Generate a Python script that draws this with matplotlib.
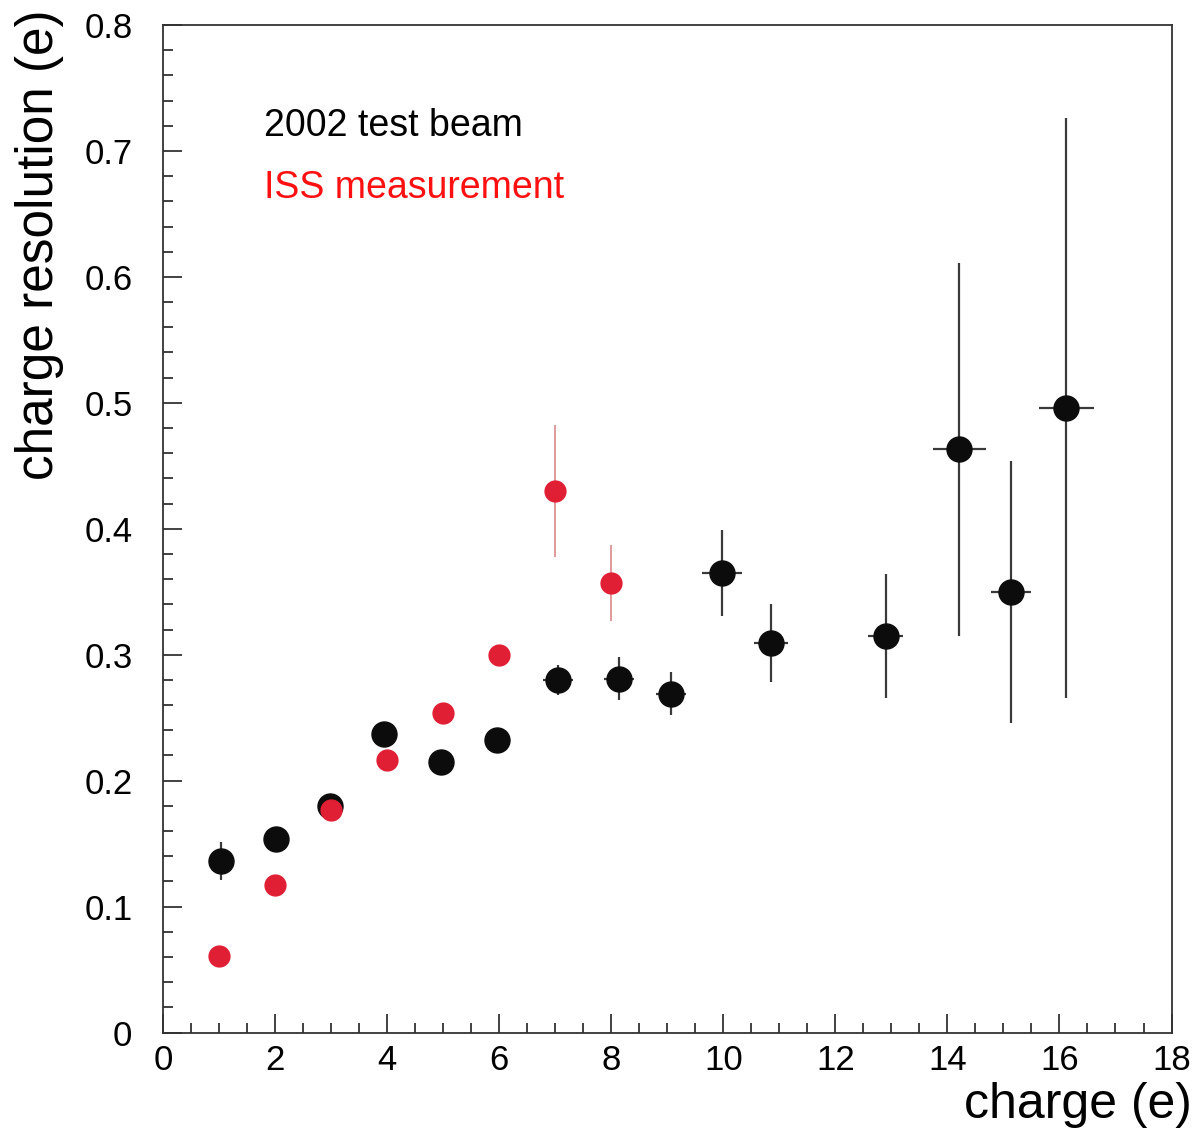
import matplotlib.pyplot as plt
from matplotlib.ticker import MultipleLocator, FuncFormatter

plt.rcParams['font.family'] = ['Liberation Sans', 'DejaVu Sans']

# 2002 test beam
beam_charge = [1.03, 2.02, 2.98, 3.94, 4.96, 5.96, 7.05, 8.14, 9.07, 9.98, 10.85, 12.9, 14.21, 15.13, 16.12]
beam_res = [0.136, 0.154, 0.180, 0.237, 0.215, 0.232, 0.280, 0.281, 0.269, 0.365, 0.309, 0.315, 0.463, 0.350, 0.496]
beam_res_err = [0.015, 0.008, 0.008, 0.008, 0.008, 0.008, 0.012, 0.017, 0.017, 0.034, 0.031, 0.049, 0.148, 0.104, 0.23]
beam_charge_err = [0.2, 0.2, 0.2, 0.2, 0.2, 0.2, 0.27, 0.27, 0.27, 0.36, 0.31, 0.31, 0.47, 0.36, 0.49]

# ISS measurement
iss_charge = [1, 2, 3, 4, 5, 6, 7, 8]
iss_res = [0.061, 0.117, 0.177, 0.216, 0.254, 0.300, 0.430, 0.357]
iss_res_err = [0, 0, 0, 0, 0, 0, 0.0525, 0.030]

fig = plt.figure(figsize=(11.98, 11.33), dpi=100)
ax = fig.add_axes([0.1361, 0.0887, 0.8418, 0.8892])

ax.errorbar(beam_charge, beam_res, yerr=beam_res_err, xerr=beam_charge_err,
            fmt='o', color='#0c0c0c', ecolor='#3a3a3a', elinewidth=1.6,
            markersize=18, capsize=0, zorder=3)
ax.errorbar(iss_charge, iss_res, yerr=iss_res_err,
            fmt='o', color='#e01f35', ecolor='#d98a8a', elinewidth=1.2,
            markersize=15, capsize=0, zorder=4)

ax.set_xlim(0, 18)
ax.set_ylim(0, 0.8)
ax.xaxis.set_major_locator(MultipleLocator(2))
ax.xaxis.set_minor_locator(MultipleLocator(0.5))
ax.yaxis.set_major_locator(MultipleLocator(0.1))
ax.yaxis.set_minor_locator(MultipleLocator(0.02))
ax.yaxis.set_major_formatter(FuncFormatter(lambda v, pos: '0' if abs(v) < 1e-9 else '%.1f' % v))

for s in ax.spines.values():
    s.set_color('#333333')
    s.set_linewidth(1.3)
ax.tick_params(which='both', direction='in', color='#333333', width=1.3,
               labelsize=25, top=False, right=False)
ax.tick_params(which='major', length=14)
ax.tick_params(which='minor', length=7)
ax.tick_params(axis='y', which='major', pad=22)
ax.tick_params(axis='x', which='major', pad=8)

ax.set_xlabel('charge (e)', fontsize=36, ha='right', va='center')
ax.xaxis.set_label_coords(1.020, -0.072)
ax.set_ylabel('charge resolution (e)', fontsize=37, ha='center', va='center')
ax.yaxis.set_label_coords(-0.123, 0.782)

ax.text(0.1, 0.890, '2002 test beam', transform=ax.transAxes, fontsize=27,
        color='black', va='baseline')
ax.text(0.1, 0.828, 'ISS measurement', transform=ax.transAxes, fontsize=27,
        color='#ff1010', va='baseline')

fig.savefig('out.png', dpi=100)
